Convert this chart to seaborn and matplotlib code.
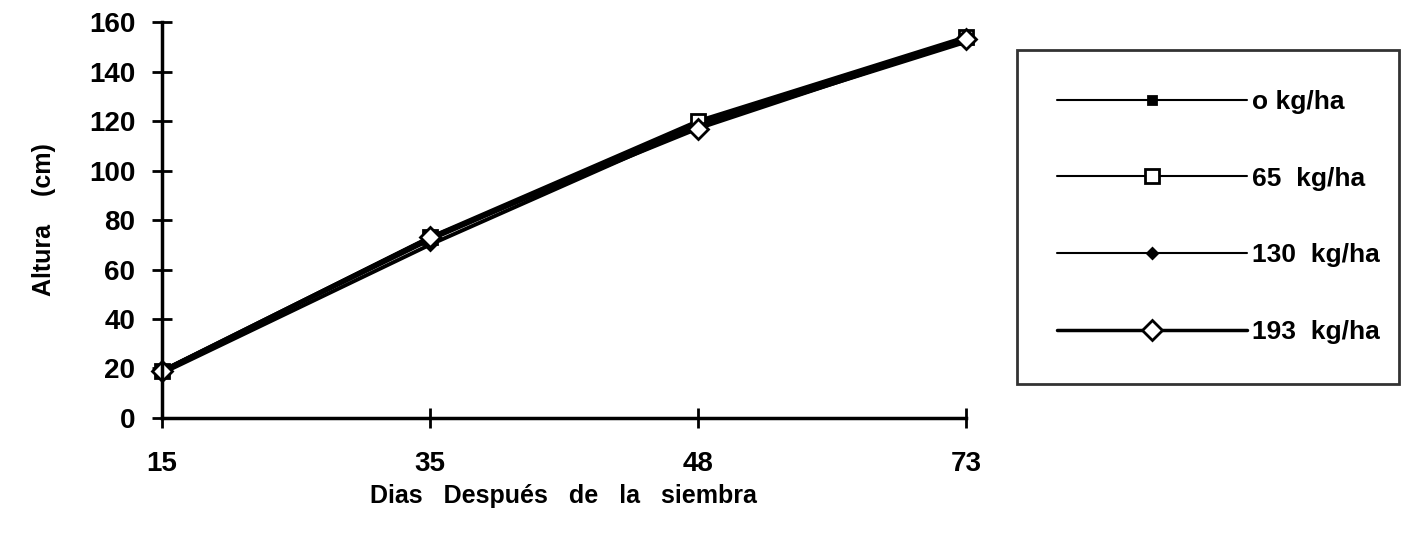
import matplotlib
matplotlib.use("Agg")
import matplotlib.pyplot as plt
import numpy as np
import pandas as pd
import seaborn as sns

dias = ["15", "35", "48", "73"]
dosis = ["o kg/ha", "65  kg/ha", "130  kg/ha", "193  kg/ha"]
altura_0 = [19, 72, 119, 153]
altura_65 = [19, 73, 120, 154]
altura_130 = [18, 70, 118, 152]
altura_193 = [19, 73, 117, 153]

rows = []
for d, vals in zip(dosis, [altura_0, altura_65, altura_130, altura_193]):
    for x, v in zip(dias, vals):
        rows.append({"dias": x, "altura": v, "dosis": d})
df = pd.DataFrame(rows)

sns.set_style("white")
plt.rcParams['font.family'] = ['Liberation Sans', 'DejaVu Sans']
plt.rcParams['text.color'] = 'black'
plt.rcParams['axes.labelcolor'] = 'black'

fig = plt.figure(figsize=(14.07, 5.4), dpi=100)
ax = fig.add_axes([0.115, 0.226, 0.5716, 0.733])

markers = {dosis[0]: "s", dosis[1]: "s", dosis[2]: "D", dosis[3]: "D"}
sns.lineplot(data=df, x="dias", y="altura", hue="dosis", style="dosis",
             markers=markers, dashes=False, palette=["black"] * 4,
             linewidth=2.8, ax=ax, legend=False, sort=False)

# marker styling per series
msizes = [6, 10, 5, 10]
mfaces = ["black", "white", "black", "white"]
for line, ms, fc in zip(ax.get_lines(), msizes, mfaces):
    line.set_markersize(ms)
    line.set_markerfacecolor(fc)
    line.set_markeredgecolor("black")
    line.set_markeredgewidth(2)
    line.set_clip_on(False)

ax.set_xlim(0, 3)
ax.set_ylim(0, 160)
ax.set_yticks(np.arange(0, 161, 20))
for s in ["top", "right"]:
    ax.spines[s].set_visible(False)
for s in ["left", "bottom"]:
    ax.spines[s].set_linewidth(2.5)
    ax.spines[s].set_color("black")
ax.tick_params(axis="both", direction="inout", length=14, width=2,
               colors="black", labelsize=20, bottom=True, left=True)
ax.tick_params(axis="y", pad=12)
ax.tick_params(axis="x", pad=17)
for lab in ax.get_xticklabels() + ax.get_yticklabels():
    lab.set_fontweight("bold")
ax.set_xlabel("Dias   Después   de   la   siembra", fontsize=18,
              fontweight="bold", labelpad=5)
ax.set_ylabel("Altura    (cm)", fontsize=18, fontweight="bold", labelpad=24)

handles = []
lws = [1.5, 1.5, 1.5, 2.5]
for ms, fc, mk, lw in zip(msizes, mfaces, ["s", "s", "D", "D"], lws):
    h, = ax.plot([], [], color="black", linewidth=lw, marker=mk,
                 markersize=ms, markerfacecolor=fc, markeredgecolor="black",
                 markeredgewidth=2)
    handles.append(h)
leg = fig.legend(handles, dosis, loc="upper left",
                 bbox_to_anchor=(0.723, 0.30, 0.271, 0.607),
                 mode="expand", frameon=True, fancybox=False,
                 borderaxespad=0,
                 handlelength=7.2, handletextpad=0.2, labelspacing=2.0,
                 borderpad=1.5, prop={"size": 19, "weight": "bold"})
leg.get_frame().set_edgecolor("black")
leg.get_frame().set_linewidth(2)

fig.savefig("out.png", dpi=100)
